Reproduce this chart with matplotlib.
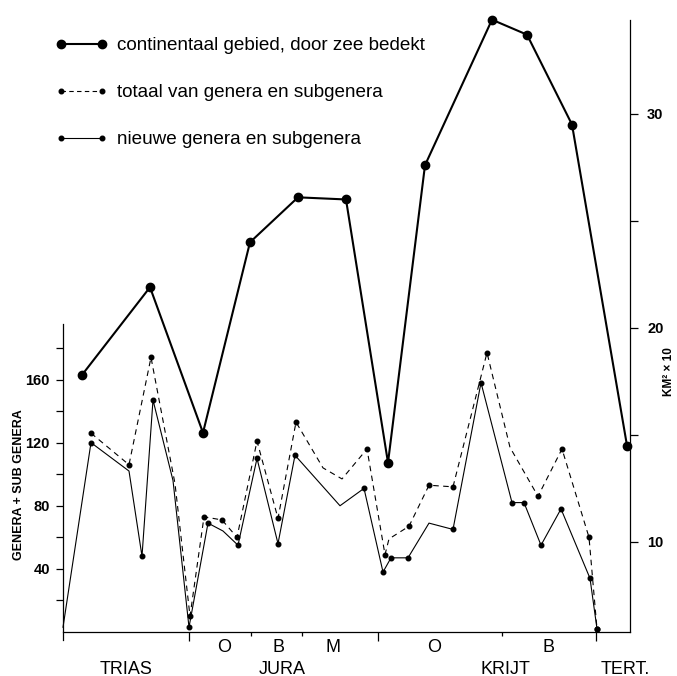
import matplotlib
matplotlib.use('Agg')
import matplotlib.pyplot as plt
from matplotlib import font_manager
from matplotlib.lines import Line2D
from matplotlib.ticker import FixedLocator, NullFormatter

# time position along the x axis (0 = left axis, 567 = right axis)
cont_x = [19, 87, 140, 187, 235, 283, 325, 362, 429, 464, 509, 564]
cont_km = [17.8, 21.9, 15.1, 24.0, 26.1, 26.0, 13.7, 27.6, 34.4, 33.7, 29.5, 14.5]

tot_x = [28, 66, 88, 112, 127, 141, 159, 174, 194, 215, 233, 260, 279,
         304, 322, 326, 346, 366, 390, 424, 447, 475, 499, 526, 534]
tot_vals = [126, 106, 174, 94, 10, 73, 71, 60, 121, 72, 133, 104, 97,
            116, 49, 59, 67, 93, 92, 177, 117, 86, 116, 60, 2]
tot_dots = [0, 1, 2, 4, 5, 6, 7, 8, 9, 10, 13, 14, 16, 17, 18, 19, 21, 22, 23, 24]

new_x = [0, 28, 66, 79, 90, 110, 126, 145, 160, 175, 194, 215, 232, 277,
         301, 320, 328, 345, 366, 390, 418, 449, 461, 478, 498, 527, 534]
new_vals = [3, 120, 102, 48, 147, 96, 3, 69, 64, 55, 110, 56, 112, 80,
            91, 38, 47, 47, 69, 65, 158, 82, 82, 55, 78, 34, 2]
new_dots = [1, 3, 4, 6, 7, 9, 10, 11, 12, 14, 15, 16, 17, 19, 20, 21, 22, 23, 24, 25, 26]

boundaries_major = [126, 315, 533]
boundaries_minor = [188, 239, 439]
stage_x = [161, 216, 270, 371, 486]
stage_labels = ['O', 'B', 'M', 'O', 'B']
period_x = [63, 219, 442, 562]
period_labels = ['TRIAS', 'JURA', 'KRIJT', 'TERT.']

legend_labels = ['continentaal gebied, door zee bedekt',
                 'totaal van genera en subgenera',
                 'nieuwe genera en subgenera']

# narrow bold font for the axis numbers, if there is one
names = {f.name for f in font_manager.fontManager.ttflist}
narrow = [n for n in ['Liberation Sans Narrow', 'DejaVu Sans Condensed'] if n in names] + ['Liberation Sans']
is_narrow = len(narrow) > 1
tick_font = font_manager.FontProperties(family=narrow, weight='bold', size=11 if is_narrow else 10.5)
label_font = font_manager.FontProperties(family=narrow, weight='bold', size=11 if is_narrow else 9)
km_font = font_manager.FontProperties(family=narrow, weight='bold', size=9 if is_narrow else 8.5)

fig = plt.figure(figsize=(6.77, 6.76), dpi=100)
ax = fig.add_axes([63 / 677, 44 / 676, 567 / 677, 632 / 676])
ax2 = ax.twinx()

ax.plot(new_x, new_vals, color='black', lw=0.8, marker='o', ms=3.3,
        markevery=new_dots, clip_on=False)
ax.plot(tot_x, tot_vals, color='black', lw=0.8, dashes=(5, 4), marker='o', ms=3.3,
        markevery=tot_dots, clip_on=False)
ax2.plot(cont_x, cont_km, color='black', lw=1.5, marker='o', ms=6, clip_on=False)

ax.set_xlim(0, 567)
ax.set_ylim(0, 400.5)
ax2.set_ylim(5.79, 35.32)

for s in ['top', 'right']:
    ax.spines[s].set_visible(False)
for s in ['top', 'left', 'bottom']:
    ax2.spines[s].set_visible(False)
ax.spines['left'].set_bounds(-5, 195)
ax.spines['left'].set_linewidth(0.9)
ax.spines['bottom'].set_linewidth(0.9)
ax2.spines['right'].set_bounds(5.79, 34.38)
ax2.spines['right'].set_linewidth(0.9)

ax.yaxis.set_major_locator(FixedLocator([40, 80, 120, 160]))
ax.yaxis.set_minor_locator(FixedLocator([20, 60, 100, 140, 180]))
ax.tick_params(axis='y', which='both', direction='out', length=5, width=0.9, pad=4.5)
ax.xaxis.set_major_locator(FixedLocator(boundaries_major))
ax.xaxis.set_minor_locator(FixedLocator(boundaries_minor))
ax.xaxis.set_major_formatter(NullFormatter())
ax.xaxis.set_minor_formatter(NullFormatter())
ax.tick_params(axis='x', which='major', direction='out', length=6.5, width=0.9)
ax.tick_params(axis='x', which='minor', direction='out', length=3, width=0.9)

ax2.yaxis.set_major_locator(FixedLocator([10, 20, 30]))
ax2.yaxis.set_minor_locator(FixedLocator([15, 25]))
ax2.tick_params(axis='y', which='both', direction='out', length=5.8, width=0.9, pad=6.5)

for lbl in ax.get_yticklabels() + ax2.get_yticklabels():
    lbl.set_fontproperties(tick_font)

trans = ax.get_xaxis_transform()
for x, s in zip(stage_x, stage_labels):
    ax.text(x, -15 / 632, s, transform=trans, ha='center', va='center',
            fontsize=13, family='Liberation Sans')
for x, s in zip(period_x, period_labels):
    ax.text(x, -37 / 632, s, transform=trans, ha='center', va='center',
            fontsize=13, family='Liberation Sans')

fig.text(19 / 677, 1 - 485 / 676, 'GENERA + SUB GENERA', rotation=90,
         ha='center', va='center', fontproperties=label_font)
fig.text(669 / 677, 1 - 372 / 676, 'KM² × 10', rotation=90, ha='center', va='center',
         fontproperties=km_font)

handles = [
    Line2D([], [], color='black', lw=1.5, marker='o', ms=6),
    Line2D([], [], color='black', lw=0.8, dashes=(4, 3), marker='o', ms=3.3),
    Line2D([], [], color='black', lw=0.8, marker='o', ms=3.3),
]
fig.legend(handles, legend_labels, loc='upper left',
           bbox_to_anchor=(55 / 677, 1 - 37 / 676), frameon=False,
           prop={'family': 'Liberation Sans', 'size': 13.6},
           handlelength=2.8, handletextpad=0.5, labelspacing=1.58,
           borderpad=0, borderaxespad=0, numpoints=2)

fig.savefig('out.png', dpi=100, facecolor='white')
